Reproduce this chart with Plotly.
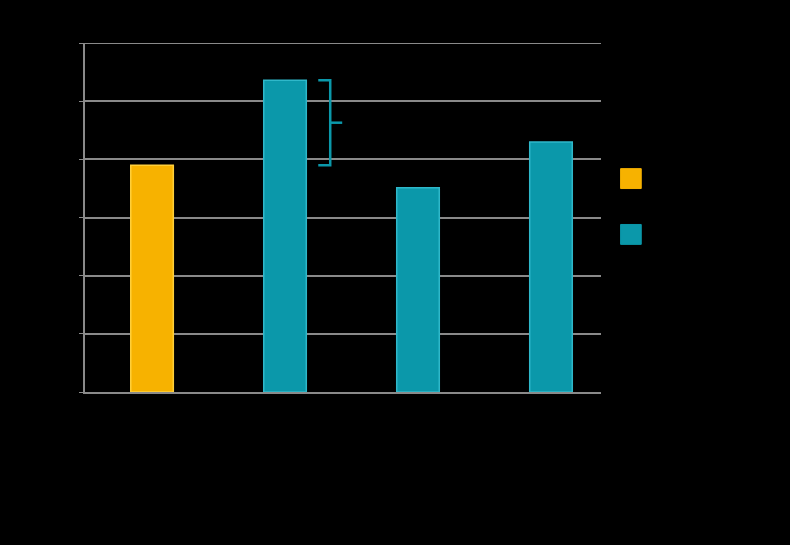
import plotly.graph_objects as go

# values (axis had no visible labels, 0..6 grid)
categories = ["A", "B", "C", "D"]
values = [3.90, 5.36, 3.51, 4.30]
series = ["reference", "comparison", "comparison", "comparison"]
legend_names = ["reference", "comparison"]
y_max = 6

YELLOW = "#F7B200"
TEAL = "#0B98AA"
GRID = "#8a8a8a"

colors = [YELLOW if s == "reference" else TEAL for s in series]
edge = ["#FFCF3A" if s == "reference" else "#2FB8CA" for s in series]

x = list(range(len(categories)))

fig = go.Figure()
fig.add_trace(go.Bar(
    x=x, y=values,
    width=0.32,
    marker=dict(color=colors, line=dict(color=edge, width=1.5)),
    showlegend=False,
    hoverinfo="y",
))

# top gridline (plotly skips the one on the range edge)
fig.add_shape(type="line", xref="paper", yref="y", x0=0, x1=1, y0=y_max, y1=y_max,
              line=dict(color=GRID, width=2), layer="below")

# bracket between bar B and bar A
y_hi = values[1]
y_lo = values[0]
y_mid = (y_hi + y_lo) / 2
bx0, bx1, bx2 = 1.25, 1.34, 1.43
fig.add_shape(type="path",
              path="M %f,%f L %f,%f L %f,%f L %f,%f" % (bx0, y_hi, bx1, y_hi, bx1, y_lo, bx0, y_lo),
              xref="x", yref="y", line=dict(color=TEAL, width=2.5))
fig.add_shape(type="line", x0=bx1, x1=bx2, y0=y_mid, y1=y_mid,
              xref="x", yref="y", line=dict(color=TEAL, width=2.5))

# legend swatches (legend text is black on black in the original)
for i, (name, col) in enumerate(zip(legend_names, [YELLOW, TEAL])):
    y0 = 0.583 - i * 0.16
    fig.add_shape(type="rect", xref="paper", yref="paper",
                  x0=1.038, x1=1.078, y0=y0, y1=y0 + 0.057,
                  fillcolor=col, line=dict(color=col, width=1))
    fig.add_annotation(xref="paper", yref="paper", x=1.09, y=y0 + 0.028,
                       text=name, showarrow=False, xanchor="left",
                       font=dict(color="black", size=12))

fig.update_layout(
    width=790, height=545,
    paper_bgcolor="black", plot_bgcolor="black",
    margin=dict(l=85, r=189, t=43, b=153),
    bargap=0.6,
    font=dict(family="Liberation Sans", color="black"),
)
fig.update_xaxes(range=[-0.504, 3.376], showticklabels=False, showgrid=False,
                 zeroline=False, showline=True, linecolor=GRID, linewidth=1.5,
                 ticks="")
fig.update_yaxes(range=[0, y_max], dtick=1, showticklabels=False, showgrid=True,
                 gridcolor=GRID, gridwidth=1.5, zeroline=False,
                 showline=True, linecolor=GRID, linewidth=1.5,
                 ticks="outside", ticklen=4, tickcolor=GRID)

fig.write_html("out.html", config={"displayModeBar": False},
               post_script="document.body.style.margin='0';document.body.style.background='black';")
